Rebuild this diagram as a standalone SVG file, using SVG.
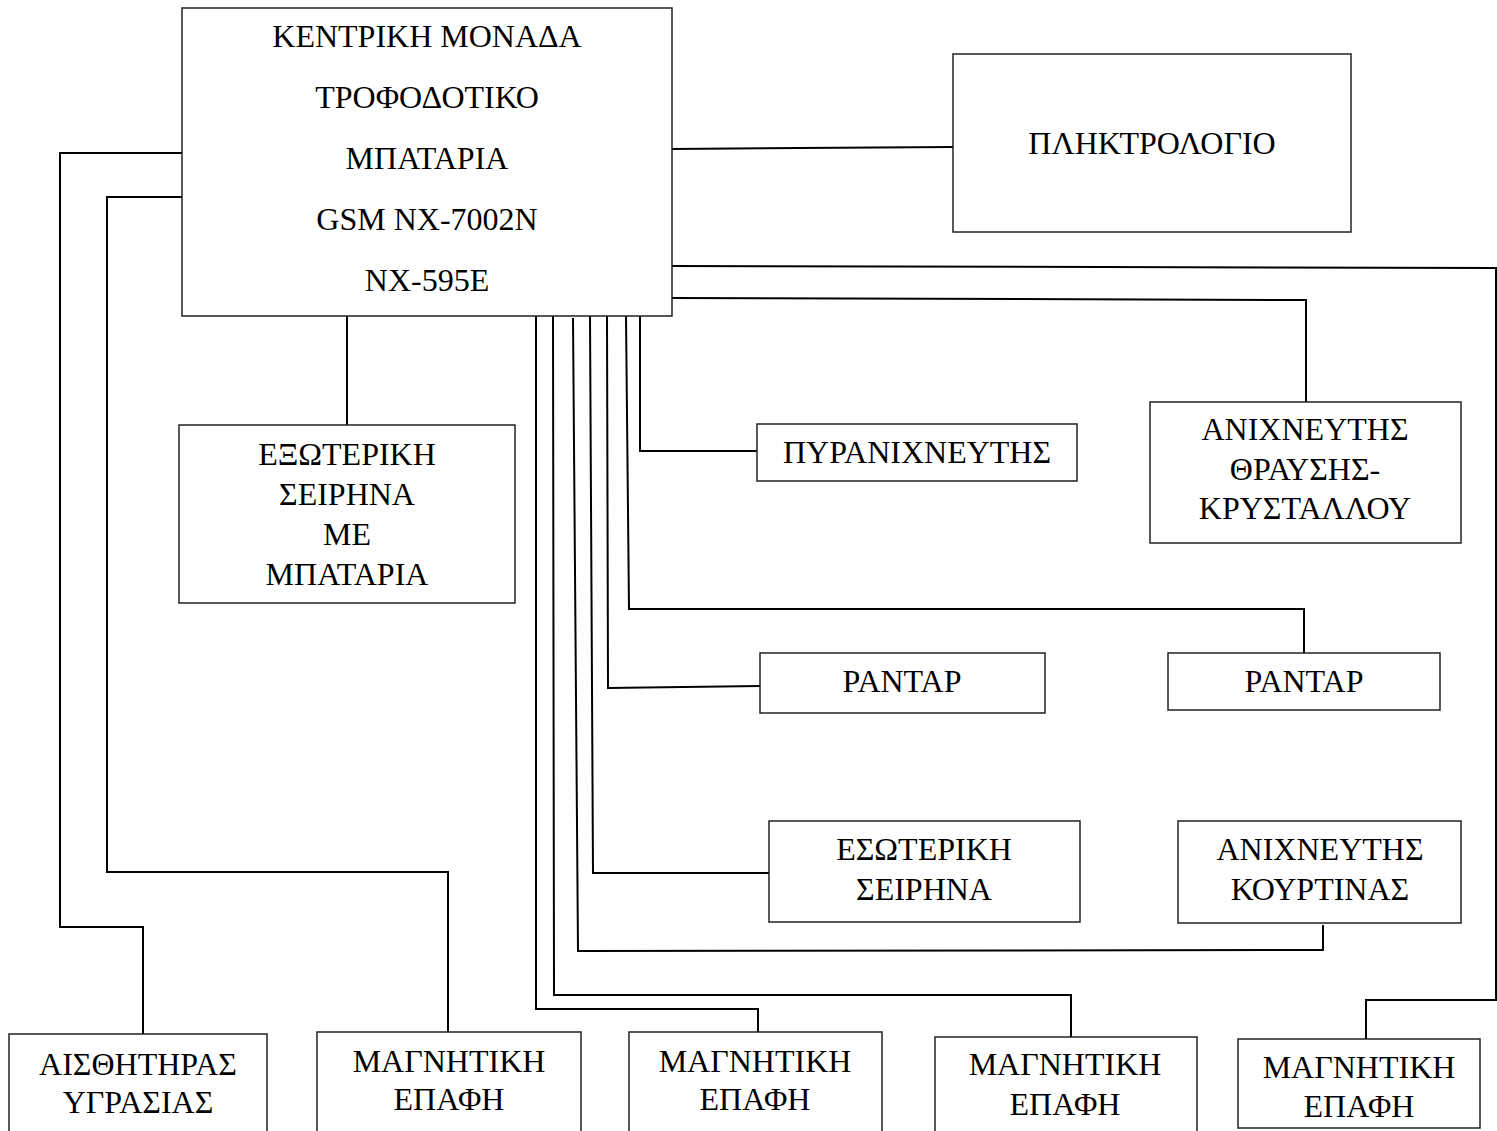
<svg xmlns="http://www.w3.org/2000/svg" width="1497" height="1131" viewBox="0 0 1497 1131">
<style>
.box{fill:#fff;stroke:#222;stroke-width:1.5}
.c{fill:none;stroke:#000;stroke-width:2}
.t{font-family:"Liberation Serif","Times New Roman",serif;font-size:32px;fill:#000;text-anchor:middle}
</style>
<rect width="1497" height="1131" fill="#fff"/>
<g id="connectors">
<polyline class="c" points="182,153 60,153 60,927 143,927 143,1034"/>
<polyline class="c" points="182,197 107,197 107,872 448,872 448,1032"/>
<polyline class="c" points="347,316 347,425"/>
<polyline class="c" points="672,149 953,147"/>
<polyline class="c" points="672,266 1496,268 1496,1000 1366,1000 1366,1039"/>
<polyline class="c" points="672,298 1306,300 1306,402"/>
<polyline class="c" points="640,316 640,451 757,451"/>
<polyline class="c" points="626,316 629,609 1304,609 1304,653"/>
<polyline class="c" points="607,316 608,688 760,686"/>
<polyline class="c" points="590,316 593,873 769,873"/>
<polyline class="c" points="573,318 578,951 1323,950 1323,925"/>
<polyline class="c" points="553,316 554,995 1071,995 1071,1037"/>
<polyline class="c" points="536,316 536,1009 758,1009 758,1032"/>
</g>
<g id="main">
<rect class="box" x="182" y="8" width="490" height="308"/>
<text class="t" x="427" y="47">ΚΕΝΤΡΙΚΗ ΜΟΝΑΔΑ</text>
<text class="t" x="427" y="108">ΤΡΟΦΟΔΟΤΙΚΟ</text>
<text class="t" x="427" y="169">ΜΠΑΤΑΡΙΑ</text>
<text class="t" x="427" y="230">GSM NX-7002N</text>
<text class="t" x="427" y="291">NX-595E</text>
</g>
<g id="keypad">
<rect class="box" x="953" y="54" width="398" height="178"/>
<text class="t" x="1152" y="154">ΠΛΗΚΤΡΟΛΟΓΙΟ</text>
</g>
<g id="ext-siren">
<rect class="box" x="179" y="425" width="336" height="178"/>
<text class="t" x="347" y="465">ΕΞΩΤΕΡΙΚΗ</text>
<text class="t" x="347" y="505">ΣΕΙΡΗΝΑ</text>
<text class="t" x="347" y="545">ΜΕ</text>
<text class="t" x="347" y="585">ΜΠΑΤΑΡΙΑ</text>
</g>
<g id="fire">
<rect class="box" x="757" y="424" width="320" height="57"/>
<text class="t" x="917" y="463">ΠΥΡΑΝΙΧΝΕΥΤΗΣ</text>
</g>
<g id="glass">
<rect class="box" x="1150" y="402" width="311" height="141"/>
<text class="t" x="1305" y="440">ΑΝΙΧΝΕΥΤΗΣ</text>
<text class="t" x="1305" y="480">ΘΡΑΥΣΗΣ-</text>
<text class="t" x="1305" y="519">ΚΡΥΣΤΑΛΛΟΥ</text>
</g>
<g id="radar1">
<rect class="box" x="760" y="653" width="285" height="60"/>
<text class="t" x="902" y="692">ΡΑΝΤΑΡ</text>
</g>
<g id="radar2">
<rect class="box" x="1168" y="653" width="272" height="57"/>
<text class="t" x="1304" y="692">ΡΑΝΤΑΡ</text>
</g>
<g id="int-siren">
<rect class="box" x="769" y="821" width="311" height="101"/>
<text class="t" x="924" y="860">ΕΣΩΤΕΡΙΚΗ</text>
<text class="t" x="924" y="900">ΣΕΙΡΗΝΑ</text>
</g>
<g id="curtain">
<rect class="box" x="1178" y="821" width="283" height="102"/>
<text class="t" x="1320" y="860">ΑΝΙΧΝΕΥΤΗΣ</text>
<text class="t" x="1320" y="900">ΚΟΥΡΤΙΝΑΣ</text>
</g>
<g id="humidity">
<rect class="box" x="9" y="1034" width="258" height="110"/>
<text class="t" x="138" y="1075">ΑΙΣΘΗΤΗΡΑΣ</text>
<text class="t" x="138" y="1113">ΥΓΡΑΣΙΑΣ</text>
</g>
<g id="mag1">
<rect class="box" x="317" y="1032" width="264" height="110"/>
<text class="t" x="449" y="1072">ΜΑΓΝΗΤΙΚΗ</text>
<text class="t" x="449" y="1110">ΕΠΑΦΗ</text>
</g>
<g id="mag2">
<rect class="box" x="629" y="1032" width="253" height="110"/>
<text class="t" x="755" y="1072">ΜΑΓΝΗΤΙΚΗ</text>
<text class="t" x="755" y="1110">ΕΠΑΦΗ</text>
</g>
<g id="mag3">
<rect class="box" x="935" y="1037" width="262" height="110"/>
<text class="t" x="1065" y="1075">ΜΑΓΝΗΤΙΚΗ</text>
<text class="t" x="1065" y="1115">ΕΠΑΦΗ</text>
</g>
<g id="mag4">
<rect class="box" x="1238" y="1039" width="242" height="89"/>
<text class="t" x="1359" y="1078">ΜΑΓΝΗΤΙΚΗ</text>
<text class="t" x="1359" y="1117">ΕΠΑΦΗ</text>
</g>
</svg>
